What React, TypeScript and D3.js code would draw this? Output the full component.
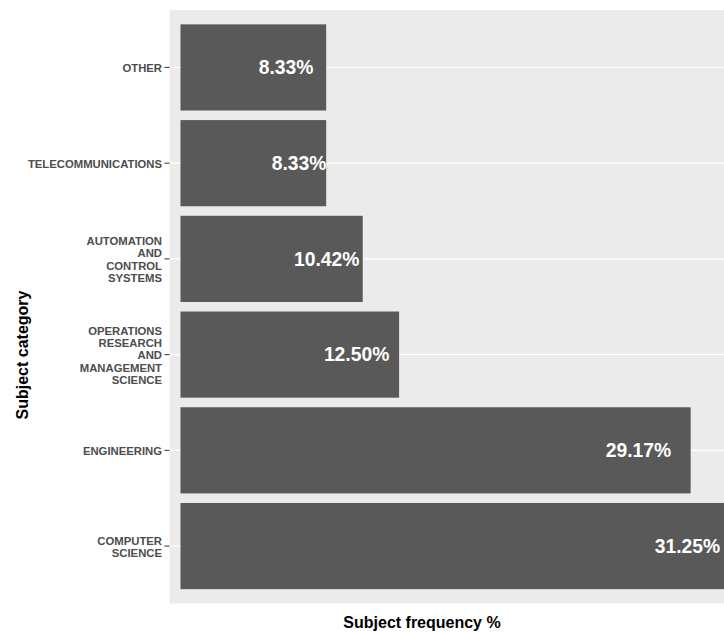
import React from "react";
import * as d3 from "d3";

const categories = [
  "OTHER",
  "TELECOMMUNICATIONS",
  "AUTOMATION AND CONTROL SYSTEMS",
  "OPERATIONS RESEARCH AND MANAGEMENT SCIENCE",
  "ENGINEERING",
  "COMPUTER SCIENCE",
];
const categoryLines = [
  ["OTHER"],
  ["TELECOMMUNICATIONS"],
  ["AUTOMATION", "AND", "CONTROL", "SYSTEMS"],
  ["OPERATIONS", "RESEARCH", "AND", "MANAGEMENT", "SCIENCE"],
  ["ENGINEERING"],
  ["COMPUTER", "SCIENCE"],
];
const values = [8.33, 8.33, 10.42, 12.5, 29.17, 31.25];
const valueLabels = ["8.33%", "8.33%", "10.42%", "12.50%", "29.17%", "31.25%"];
// where each label's right edge sits, in value units
const labelEnds = [7.6, 8.34, 10.23, 11.94, 28.06, 30.86];

const W = 724;
const H = 633;
const panel = { left: 169.5, top: 10, bottom: 603.5, right: 740 };

export default function App() {
  const y = d3
    .scaleBand<string>()
    .domain(categories)
    .range([panel.top, panel.bottom])
    .paddingInner(0.1)
    .paddingOuter(0.15);
  const x = d3.scaleLinear().domain([0, 31.25]).range([180.5, 727]);

  const lineH = 12.4;

  return (
    <div style={{ position: "absolute", left: 0, top: 0 }}>
      <svg width={W} height={H} style={{ display: "block" }} fontFamily="'Liberation Sans', Arial, sans-serif">
        <rect x={0} y={0} width={W} height={H} fill="#ffffff" />
        <rect
          x={panel.left}
          y={panel.top}
          width={panel.right - panel.left}
          height={panel.bottom - panel.top}
          fill="#EBEBEB"
        />
        {categories.map((c) => {
          const cy = (y(c) as number) + y.bandwidth() / 2;
          return (
            <line key={"g" + c} x1={panel.left} x2={panel.right} y1={cy} y2={cy} stroke="#ffffff" strokeWidth={1.1} />
          );
        })}
        {categories.map((c, i) => (
          <rect
            key={"b" + c}
            x={x(0)}
            y={y(c) as number}
            width={x(values[i]) - x(0)}
            height={y.bandwidth()}
            fill="#595959"
          />
        ))}
        {categories.map((c, i) => {
          const cy = (y(c) as number) + y.bandwidth() / 2;
          return (
            <text
              key={"l" + c}
              x={x(labelEnds[i])}
              y={cy}
              dy="0.35em"
              textAnchor="end"
              fill="#ffffff"
              fontWeight="bold"
              fontSize={19.3}
            >
              {valueLabels[i]}
            </text>
          );
        })}
        {categories.map((c, i) => {
          const cy = (y(c) as number) + y.bandwidth() / 2;
          const lines = categoryLines[i];
          const start = cy - ((lines.length - 1) * lineH) / 2 + 0.8;
          return (
            <g key={"a" + c}>
              <line x1={164.5} x2={169.5} y1={cy} y2={cy} stroke="#333333" strokeWidth={1} />
              <text
                x={162}
                y={start}
                textAnchor="end"
                fill="#4D4D4D"
                fontWeight="bold"
                fontSize={11.3}
              >
                {lines.map((ln, k) => (
                  <tspan key={k} x={162} y={start + k * lineH} dy="0.35em">
                    {ln}
                  </tspan>
                ))}
              </text>
            </g>
          );
        })}
        <text
          x={422}
          y={622}
          dy="0.35em"
          textAnchor="middle"
          fontWeight="bold"
          fontSize={16}
          fill="#000000"
        >
          Subject frequency %
        </text>
        <text
          transform={`translate(22,355) rotate(-90)`}
          dy="0.35em"
          textAnchor="middle"
          fontWeight="bold"
          fontSize={16}
          fill="#000000"
        >
          Subject category
        </text>
      </svg>
    </div>
  );
}
